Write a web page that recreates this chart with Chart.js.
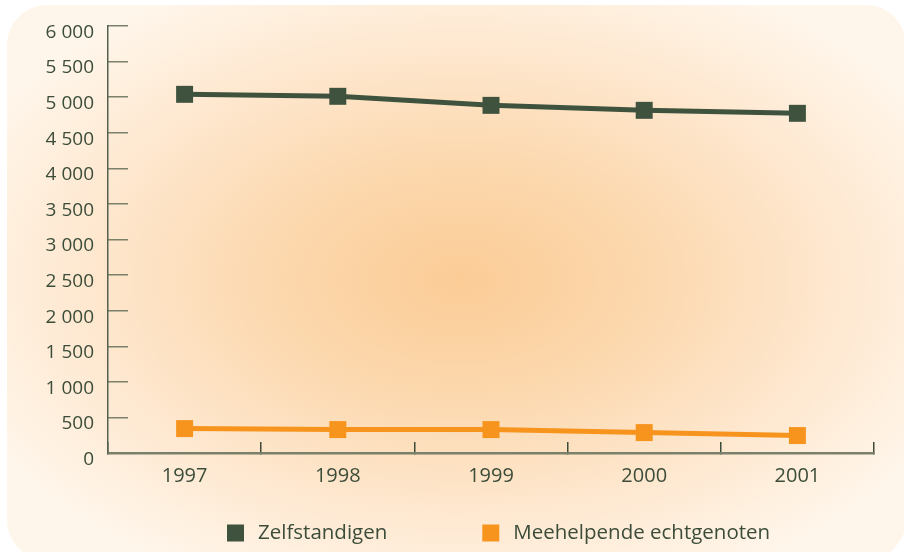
<!DOCTYPE html>
<html>
<head>
<meta charset="utf-8">
<script src="https://cdn.jsdelivr.net/npm/chart.js@4.4.1/dist/chart.umd.min.js"></script>
<style>
html,body{margin:0;padding:0;background:#ffffff;}
#c{display:block;}
</style>
</head>
<body>
<canvas id="c" width="904" height="552"></canvas>
<script>
// ---- data ----
const years = ['1997', '1998', '1999', '2000', '2001'];
const zelfstandigen = [5040, 5012, 4885, 4815, 4773];
const meehelpende = [343, 329, 329, 287, 245];
const seriesNames = ['Zelfstandigen', 'Meehelpende echtgenoten'];
const yTickLabels = ['0', '500', '1 000', '1 500', '2 000', '2 500', '3 000', '3 500', '4 000', '4 500', '5 000', '5 500', '6 000'];

// ---- styles ----
const GREEN = '#3f523d';
const ORANGE = '#f7941d';
const TEXT = '#3b4c39';
const AXIS = '#7a8069';
const FAMILY = '"Open Sans", Lato, sans-serif';
const YFONT = {family: FAMILY, size: 19};
const XFONT = {family: FAMILY, size: 20};
const LEGEND_SIZE = 20.5;

const backgroundPlugin = {
  id: 'bgPanel',
  beforeDraw(chart) {
    const ctx = chart.ctx;
    const x0 = 7, y0 = 5, x1 = 906, y1 = 560, r = 40;
    ctx.save();
    ctx.beginPath();
    ctx.moveTo(x0 + r, y0);
    ctx.lineTo(x1 - r, y0);
    ctx.arcTo(x1, y0, x1, y0 + r, r);
    ctx.lineTo(x1, y1 - r);
    ctx.arcTo(x1, y1, x1 - r, y1, r);
    ctx.lineTo(x0 + r, y1);
    ctx.arcTo(x0, y1, x0, y1 - r, r);
    ctx.lineTo(x0, y0 + r);
    ctx.arcTo(x0, y0, x0 + r, y0, r);
    ctx.closePath();
    ctx.clip();
    ctx.translate(460, 280);
    ctx.scale(1, 0.62);
    const g = ctx.createRadialGradient(0, 0, 0, 0, 0, 540);
    g.addColorStop(0, '#fbcc96');
    g.addColorStop(0.35, '#fcd8ae');
    g.addColorStop(0.7, '#fee8d0');
    g.addColorStop(1, '#fff6eb');
    ctx.fillStyle = g;
    ctx.fillRect(-1200, -1200, 2400, 2400);
    ctx.restore();
  }
};

const legendPlugin = {
  id: 'bottomLegend',
  afterDraw(chart) {
    const ctx = chart.ctx;
    const area = chart.chartArea;
    const box = 17, gapText = 14, gapItem = 95;
    ctx.save();
    ctx.font = LEGEND_SIZE + 'px ' + FAMILY;
    ctx.textBaseline = 'middle';
    ctx.textAlign = 'left';
    const cy = area.bottom + 80;
    let x = area.left + 119;
    chart.data.datasets.forEach(ds => {
      ctx.fillStyle = ds.borderColor;
      ctx.fillRect(x, cy - box / 2, box, box);
      ctx.fillStyle = TEXT;
      ctx.fillText(ds.label, x + box + gapText, cy);
      x += box + gapText + ctx.measureText(ds.label).width + gapItem;
    });
    ctx.restore();
  }
};

new Chart(document.getElementById('c'), {
  type: 'line',
  data: {
    labels: years,
    datasets: [
      {
        label: seriesNames[0],
        data: zelfstandigen,
        borderColor: GREEN,
        backgroundColor: GREEN,
        borderWidth: 5,
        pointStyle: 'rect',
        pointRadius: 12,
        pointBorderWidth: 0,
        pointBackgroundColor: GREEN,
        tension: 0
      },
      {
        label: seriesNames[1],
        data: meehelpende,
        borderColor: ORANGE,
        backgroundColor: ORANGE,
        borderWidth: 5,
        pointStyle: 'rect',
        pointRadius: 12,
        pointBorderWidth: 0,
        pointBackgroundColor: ORANGE,
        tension: 0
      }
    ]
  },
  options: {
    responsive: false,
    animation: false,
    devicePixelRatio: 1,
    layout: {padding: {left: 40, right: 30, top: 26, bottom: 0}},
    plugins: {
      legend: {display: false},
      tooltip: {enabled: false}
    },
    scales: {
      x: {
        type: 'category',
        offset: true,
        grid: {
          offset: true,
          drawOnChartArea: false,
          drawTicks: true,
          tickLength: -11,
          color: TEXT,
          lineWidth: 1.5
        },
        border: {display: true, color: AXIS, width: 2.5},
        ticks: {color: TEXT, font: XFONT, padding: 22, maxRotation: 0},
        afterFit(scale) { scale.height = 99; }
      },
      y: {
        min: 0,
        max: 6000,
        grid: {
          drawOnChartArea: false,
          drawTicks: true,
          tickLength: -20,
          color: AXIS,
          lineWidth: 1.5
        },
        border: {display: true, color: '#55614f', width: 1.5},
        ticks: {
          stepSize: 500,
          color: TEXT,
          font: YFONT,
          padding: 34,
          labelOffset: 6.5,
          callback: (v, i) => yTickLabels[i]
        },
        afterFit(scale) {
          scale.width = 68;
          scale.paddingTop = 12;
          scale.paddingBottom = 12;
        }
      }
    }
  },
  plugins: [backgroundPlugin, legendPlugin]
});
</script>
</body>
</html>
